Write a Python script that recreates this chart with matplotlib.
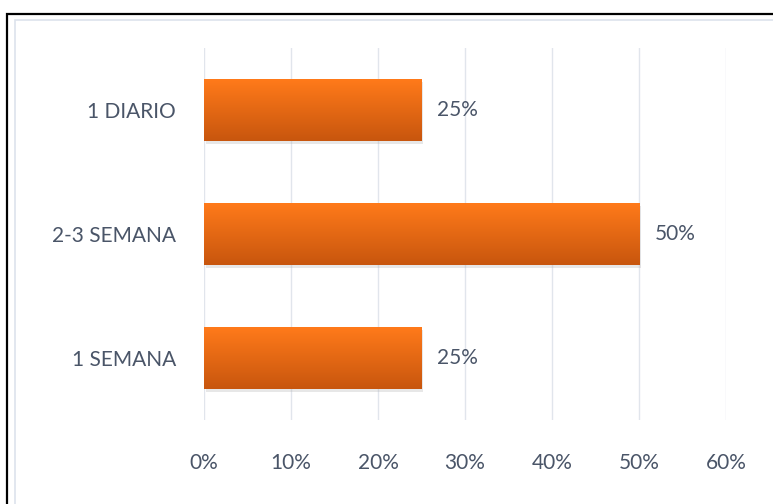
import numpy as np
import matplotlib.pyplot as plt
from matplotlib.patches import Rectangle
from matplotlib.colors import LinearSegmentedColormap

# data (bottom to top)
categories = ['1 SEMANA', '2-3 SEMANA', '1 DIARIO']
values = [0.25, 0.50, 0.25]
xticks = [0, 0.1, 0.2, 0.3, 0.4, 0.5, 0.6]
xticklabels = ['0%', '10%', '20%', '30%', '40%', '50%', '60%']

plt.rcParams['font.family'] = ['Lato', 'DejaVu Sans']
txt = '#4a5568'

fig = plt.figure(figsize=(7.73, 5.04), dpi=100)
ax = fig.add_axes([204 / 773, 1 - 420 / 504, 522 / 773, 372 / 504])

# outer frame (cut off at right/bottom like the screenshot)
W, H = 773, 504
fig.patches.append(Rectangle((7.5 / W, -0.1), 1.2, 1 - 13.5 / H + 0.1,
                             transform=fig.transFigure, fill=False,
                             edgecolor='black', lw=1.6, zorder=0))
fig.patches.append(Rectangle((15 / W, -0.1), 1.2, 1 - 19.5 / H + 0.1,
                             transform=fig.transFigure, fill=False,
                             edgecolor='#dde3ec', lw=1.2, zorder=0))

grad = LinearSegmentedColormap.from_list('o', ['#c8560e', '#ff7a1a'])
bars = ax.barh(categories, values, height=0.5, color='none', zorder=3)
for b in bars:
    x0, y0, w, h = b.get_x(), b.get_y(), b.get_width(), b.get_height()
    # soft shadow
    ax.add_patch(Rectangle((x0 + 0.002, y0 - 0.025), w, h, color='#b0b0b0',
                           alpha=0.3, lw=0, zorder=2))
    img = ax.imshow(np.linspace(0, 1, 100).reshape(-1, 1), cmap=grad,
                    extent=[x0, x0 + w, y0, y0 + h], aspect='auto',
                    origin='lower', zorder=3)
    img.set_clip_path(b)
    ax.text(x0 + w + 0.018, y0 + h / 2, f'{w:.0%}', va='center', ha='left',
            fontsize=15, color=txt)

ax.set_xlim(0, 0.6)
ax.set_ylim(-0.5, 2.5)
ax.set_xticks(xticks)
ax.set_xticklabels(xticklabels)
ax.grid(axis='x', color='#e1e5ec', lw=1.0, zorder=0)
ax.set_axisbelow(True)
for s in ax.spines.values():
    s.set_visible(False)
ax.tick_params(length=0, labelsize=15, labelcolor=txt)
ax.tick_params(axis='x', pad=24)
ax.tick_params(axis='y', pad=20)

fig.savefig('out.png', dpi=100)
